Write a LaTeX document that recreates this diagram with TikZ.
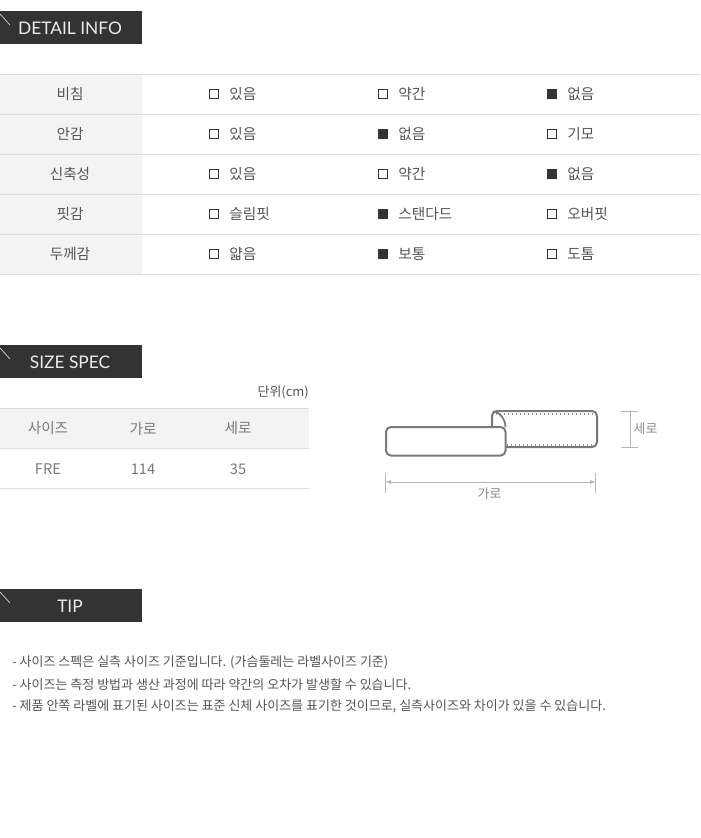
\documentclass[tikz,border=0pt]{standalone}
\usepackage{fontspec}
\usetikzlibrary{arrows.meta}
\setmainfont{Noto Sans CJK KR}
\newfontfamily\headfont{Lato}
\definecolor{ink}{HTML}{555555}
\definecolor{soft}{HTML}{8A8A8A}
\definecolor{rulec}{HTML}{DDDDDD}
\definecolor{band}{HTML}{F3F3F3}
\definecolor{dark}{HTML}{333333}
\definecolor{pillow}{HTML}{7A7A7A}
\definecolor{dimc}{HTML}{B5B5B5}
\tikzset{
 x=0.75pt,y=-0.75pt,
 txt/.style={inner sep=0pt,text=ink,font=\fontsize{11pt}{13pt}\selectfont},
 ltxt/.style={txt,anchor=west},
 softtxt/.style={inner sep=0pt,text=soft,font=\fontsize{9.7pt}{12pt}\selectfont},
 tiptxt/.style={inner sep=0pt,anchor=west,text=ink,font=\fontsize{9.75pt}{12pt}\selectfont},
 head/.style={inner sep=0pt,text=white!92!black,font=\headfont\fontsize{13pt}{15pt}\selectfont},
 hline/.style={draw=rulec,line width=0.75pt},
 boxoff/.style={draw=dark,line width=0.75pt,fill=white,minimum size=6.6pt,inner sep=0pt},
 boxon/.style={draw=dark,line width=0.75pt,fill=dark,minimum size=6.6pt,inner sep=0pt},
 pil/.style={draw=pillow,line width=1.5pt,rounded corners=3.6pt},
 stitch/.style={draw=pillow!85,line width=1.5pt,dash pattern=on 0.8pt off 2.2pt},
 dimline/.style={draw=dimc,line width=0.6pt},
}
\begin{document}
\begin{tikzpicture}
\useasboundingbox (0,0) rectangle (700,838);
\fill[white] (0,0) rectangle (700,838);
% headers
\foreach \n/\yy/\t/\tx in {a/11/DETAIL INFO/70,b/345/SIZE SPEC/70,c/589/TIP/70}{
 \fill[dark] (0,\yy) rectangle (142,\yy+33);
 \draw[white!85!black,line width=0.5pt] (0,\yy+3) -- (10,\yy+14);
 \node[head] (h\n) at (\tx,\yy+17) {\t};
}
% detail table
\fill[band] (0,74.5) rectangle (142,274.5);
\foreach \yy in {74.5,114.5,154.5,194.5,234.5,274.5} \draw[hline] (0,\yy) -- (700,\yy);
\foreach \r/\yy/\lab/\A/\B/\C/\sa/\sb/\sc in {
 1/94/비침/있음/약간/없음/boxoff/boxoff/boxon,
 2/134/안감/있음/없음/기모/boxoff/boxon/boxoff,
 3/174/신축성/있음/약간/없음/boxoff/boxoff/boxon,
 4/214/핏감/슬림핏/스탠다드/오버핏/boxoff/boxon/boxoff,
 5/254/두께감/얇음/보통/도톰/boxoff/boxon/boxoff}{
 \node[txt] (l\r) at (70,\yy) {\lab};
 \node[\sa] (ba\r) at (214,\yy) {};
 \node[ltxt] (ta\r) at (229,\yy) {\A};
 \node[\sb] (bb\r) at (383,\yy) {};
 \node[ltxt] (tb\r) at (398,\yy) {\B};
 \node[\sc] (bc\r) at (552,\yy) {};
 \node[ltxt] (tc\r) at (567,\yy) {\C};
}
% size table
\node[softtxt,anchor=east,text=ink] (unit) at (309,392.5) {단위(cm)};
\fill[band] (0,408.5) rectangle (309,448.5);
\foreach \yy in {408.5,448.5,488.5} \draw[hline] (0,\yy) -- (309,\yy);
\node[txt,text=soft!70!ink] (s1) at (48,428.5) {사이즈};
\node[txt,text=soft!70!ink] (s2) at (143,428.5) {가로};
\node[txt,text=soft!70!ink] (s3) at (238,428.5) {세로};
\node[txt,text=soft!70!ink] (v1) at (48,469) {FRE};
\node[txt,text=soft!70!ink] (v2) at (143,469) {114};
\node[txt,text=soft!70!ink] (v3) at (238,469) {35};
% pillow sketch
\draw[stitch] (496,413.5) -- (594,413.5);
\draw[stitch] (507,445) -- (595,445);
\draw[pil] (492,427) -- (492,411) -- (597,411) -- (597,447) -- (505,447);
\draw[draw=pillow,line width=1.3pt] (493,411.5) .. controls (501,412.5) and (505,419) .. (505.5,427);
\draw[pil,fill=white] (386,427) rectangle (505.5,455.5);
% dimensions
\coordinate (wl) at (385.5,482); \coordinate (wr) at (595.5,482);
\coordinate (wlt) at (385.5,473); \coordinate (wlb) at (385.5,493);
\coordinate (wrt) at (595.5,473); \coordinate (wrb) at (595.5,493);
\draw[dimline] (wlt) -- (wlb);
\draw[dimline] (wrt) -- (wrb);
\draw[dimline,{Latex[length=4pt,width=3pt]}-{Latex[length=4pt,width=3pt]}] (wl) -- (wr);
\node[softtxt] (wt) at (489.5,494) {가로};
\coordinate (ht1) at (621,411); \coordinate (ht2) at (638,411);
\coordinate (hb1) at (621,447); \coordinate (hb2) at (638,447);
\coordinate (hc1) at (630,411); \coordinate (hc2) at (630,447);
\draw[dimline] (ht1) -- (ht2);
\draw[dimline] (hb1) -- (hb2);
\draw[dimline] (hc1) -- (hc2);
\node[softtxt] (ht) at (645.5,429) {세로};
% tips
\node[tiptxt] (t1) at (12,662.5) {- 사이즈 스펙은 실측 사이즈 기준입니다. (가슴둘레는 라벨사이즈 기준)};
\node[tiptxt] (t2) at (12,684.5) {- 사이즈는 측정 방법과 생산 과정에 따라 약간의 오차가 발생할 수 있습니다.};
\node[tiptxt] (t3) at (12,706.5) {- 제품 안쪽 라벨에 표기된 사이즈는 표준 신체 사이즈를 표기한 것이므로, 실측사이즈와 차이가 있을 수 있습니다.};
\end{tikzpicture}
\end{document}
